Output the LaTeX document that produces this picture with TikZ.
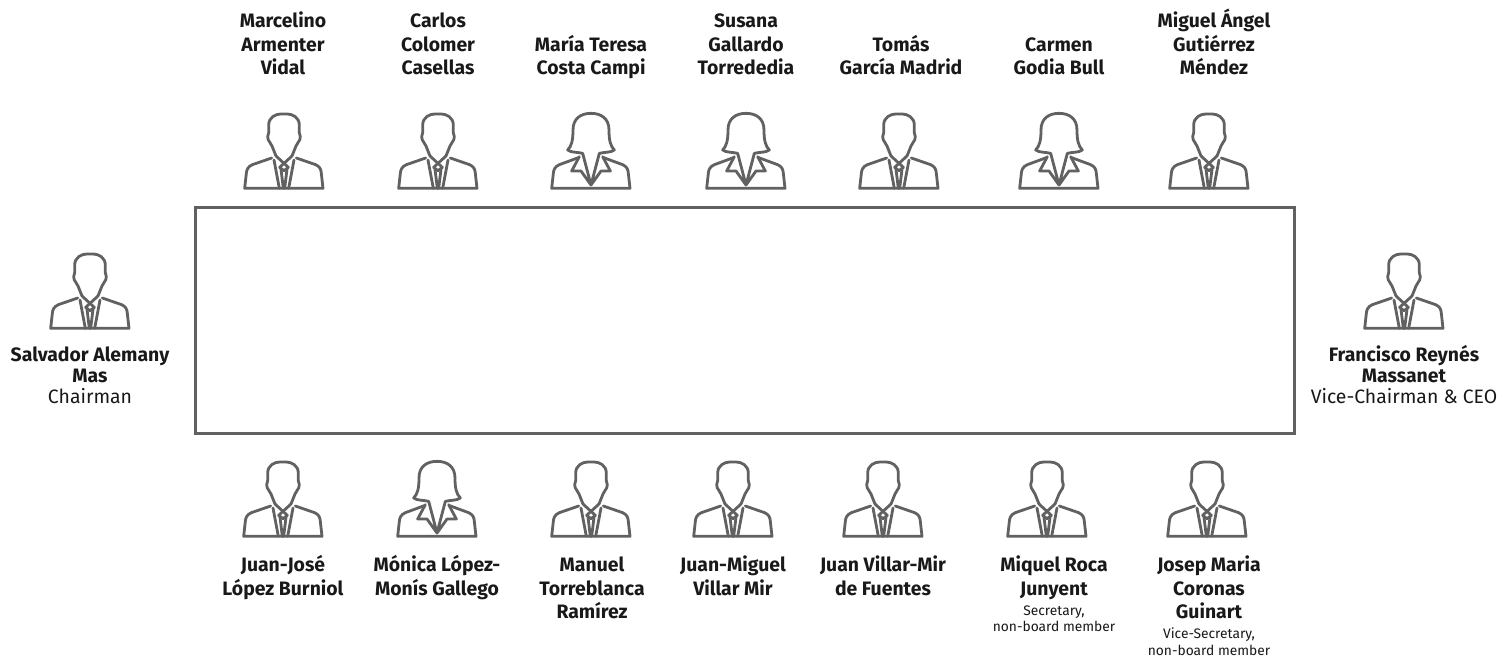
\documentclass[tikz,border=0pt]{standalone}
\usepackage{fontspec}
\setmainfont{Fira Sans}
\newcommand{\nm}[1]{\rule{0pt}{18.5pt}{\bfseries #1}}
\newcommand{\sn}[1]{\rule{0pt}{16pt}{\bfseries #1}}
\tikzset{x=1pt,y=-1pt,
 icon/.style={draw=black!62,line width=2.8pt,line join=round,line cap=round},
 person/.style={align=center,font=\fontsize{19.4}{23.4}\selectfont,text=black!90,inner sep=0pt,anchor=north},
 sideperson/.style={person,font=\fontsize{19.4}{21}\selectfont}}
\newcommand{\smalltxt}[1]{{\fontsize{13.8}{15}\selectfont #1}}
\tikzset{male/.pic={
 \begin{scope}[x=0.3333pt,y=-0.3333pt]
 \draw[icon] (-24,-102) -- (-36,-132) .. controls (-38,-142) and (-49,-145) .. (-49,-160) .. controls (-49,-165) and (-46,-168) .. (-46,-172) -- (-46,-195) .. controls (-46,-218) and (-25,-228) .. (-10,-228) -- (10,-228) .. controls (25,-228) and (46,-218) .. (46,-195) -- (46,-172) .. controls (46,-168) and (49,-165) .. (49,-160) .. controls (49,-145) and (38,-142) .. (36,-132) -- (24,-102);
 \draw[icon] (-37,-96) -- (-95,-76) .. controls (-108,-70) and (-112,-62) .. (-113,-50) -- (-118,-5) -- (117,-5) -- (112,-50) .. controls (111,-62) and (108,-70) .. (95,-76) -- (37,-96);
 \draw[icon] (-24,-102) -- (13,-68) (24,-102) -- (-13,-68);
 \draw[icon] (-13,-68) -- (0,-58) -- (13,-68);
 \draw[icon] (-30,-90) -- (-14,-5) (30,-90) -- (14,-5);
 \draw[icon] (-9,-62) -- (-2,-5) (9,-62) -- (2,-5);
 \end{scope}}}
\tikzset{female/.pic={
 \begin{scope}[x=0.3333pt,y=-0.3333pt]
 \draw[icon] (-25,-110) .. controls (-40,-114) and (-60,-112) .. (-70,-120) .. controls (-58,-132) and (-54,-150) .. (-54,-180) .. controls (-54,-215) and (-30,-230) .. (0,-230) .. controls (30,-230) and (54,-215) .. (54,-180) .. controls (54,-150) and (58,-132) .. (70,-120) .. controls (60,-112) and (40,-114) .. (25,-110);
 \draw[icon] (-38,-97) -- (-95,-76) .. controls (-108,-70) and (-112,-62) .. (-113,-50) -- (-118,-5) -- (117,-5) -- (112,-50) .. controls (111,-62) and (108,-70) .. (95,-76) -- (38,-97);
 \draw[icon] (-25,-110) -- (0,-15) -- (-30,-57) -- (-58,-57) -- (-35,-100);
 \draw[icon] (25,-110) -- (0,-15) -- (30,-57) -- (58,-57) -- (35,-100);
 \end{scope}}}
\begin{document}
\begin{tikzpicture}
\useasboundingbox[fill=white] (0,0) rectangle (1500,657);
\node[draw=black!62,line width=3pt,minimum width=1099pt,minimum height=226pt,inner sep=0pt] (table) at (744.5,320) {};
% top row
\path (284,190) pic {male};
\path (438,190) pic {male};
\path (591,190) pic {female};
\path (746,190) pic {female};
\path (899,190) pic {male};
\path (1059,190) pic {female};
\path (1209,190) pic {male};
% sides
\path (90,330) pic {male};
\path (1404,330) pic {male};
% bottom
\path (283,538) pic {male};
\path (437,538) pic {female};
\path (591,538) pic {male};
\path (733,538) pic {male};
\path (883,538) pic {male};
\path (1047,538) pic {male};
\path (1207,538) pic {male};
% top labels
\node[person] (t1) at (283,9) {\nm{Marcelino}\\\nm{Armenter}\\\nm{Vidal}};
\node[person] (t2) at (438,9) {\nm{Carlos}\\\nm{Colomer}\\\nm{Casellas}};
\node[person] (t3) at (591,32.5) {\nm{María Teresa}\\\nm{Costa Campi}};
\node[person] (t4) at (746,9) {\nm{Susana}\\\nm{Gallardo}\\\nm{Torrededia}};
\node[person] (t5) at (901,32.5) {\nm{Tomás}\\\nm{García Madrid}};
\node[person] (t6) at (1059,32.5) {\nm{Carmen}\\\nm{Godia Bull}};
\node[person] (t7) at (1214,9) {\nm{Miguel Ángel}\\\nm{Gutiérrez}\\\nm{Méndez}};
\node[sideperson] (s1) at (90,345.5) {\sn{Salvador Alemany}\\\sn{Mas}\\Chairman};
\node[sideperson] (s2) at (1404,345.5) {\sn{Francisco Reynés}\\\sn{Massanet}\\Vice-Chairman \& CEO};
\node[person] (b1) at (283,553) {\nm{Juan-José}\\\nm{López Burniol}};
\node[person] (b2) at (437,553) {\nm{Mónica López-}\\\nm{Monís Gallego}};
\node[person] (b3) at (592,553) {\nm{Manuel}\\\nm{Torreblanca}\\\nm{Ramírez}};
\node[person] (b4) at (733,553) {\nm{Juan-Miguel}\\\nm{Villar Mir}};
\node[person] (b5) at (883,553) {\nm{Juan Villar-Mir}\\\nm{de Fuentes}};
\node[person] (b6) at (1054,553) {\nm{Miquel Roca}\\\nm{Junyent}\\[-3.4pt]\smalltxt{Secretary,}\\[-6.8pt]\smalltxt{non-board member}};
\node[person] (b7) at (1209,553) {\nm{Josep Maria}\\\nm{Coronas}\\\nm{Guinart}\\[-3.4pt]\smalltxt{Vice-Secretary,}\\[-6.8pt]\smalltxt{non-board member}};
\end{tikzpicture}
\end{document}
